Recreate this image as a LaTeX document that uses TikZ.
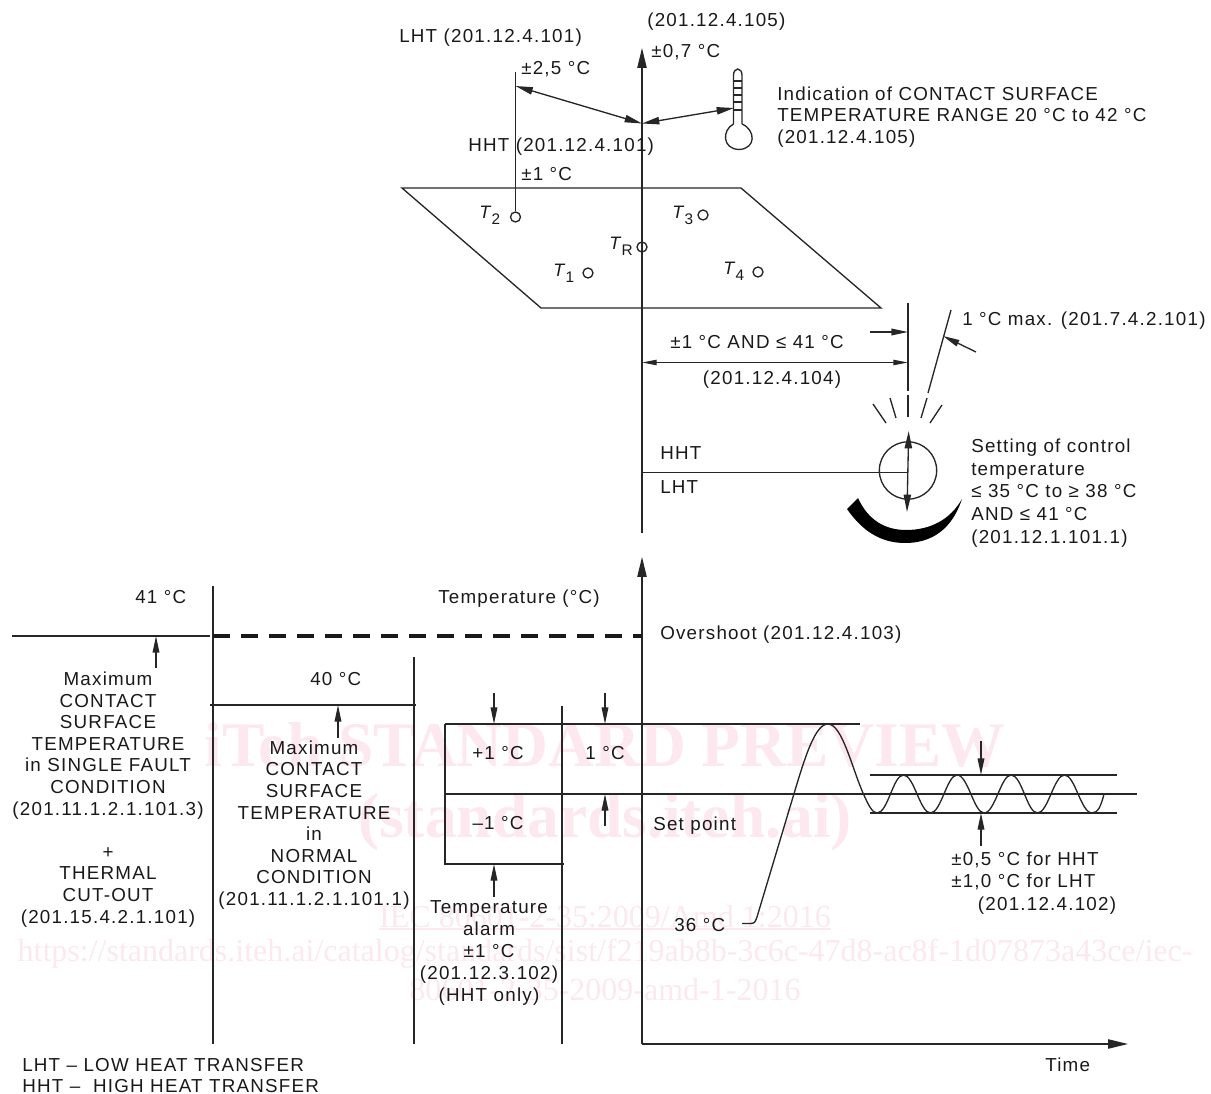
\documentclass[tikz,border=0pt]{standalone}
\usepackage{fontspec}
\setmainfont[LetterSpace=6.5]{Liberation Sans}
\newfontfamily\wmfont{Liberation Serif}
\usetikzlibrary{arrows.meta}
\definecolor{wm}{RGB}{252,232,238}
\newcommand{\Tsub}[1]{{\fontsize{13.5}{14}\selectfont\textit{T}}\kern-0.6pt\raisebox{-4.5pt}{\fontsize{11.5}{12}\selectfont #1}}
\tikzset{
  x=0.75pt,y=-0.75pt,
  lbl/.style={inner sep=0pt,font=\fontsize{14.1}{16.2}\selectfont,text=black!90},
  lc/.style={lbl,align=center,anchor=center},
  ll/.style={lbl,align=left,anchor=west},
  wide/.style={font=\fontsize{14.1}{17}\selectfont},
  mid/.style={font=\fontsize{14.1}{16.6}\selectfont},
  ln/.style={line width=1pt,black!85},
  big/.style={-{Triangle[length=15pt,width=7pt]}},
  sm/.style={-{Triangle[length=12.5pt,width=5pt]}},
  dbl/.style={{Triangle[length=13pt,width=5.5pt]}-{Triangle[length=13pt,width=5.5pt]}},
  dbn/.style={{Triangle[length=11pt,width=4pt]}-{Triangle[length=11pt,width=4pt]}},
  probe/.style={circle,draw,ln,fill=white,inner sep=0pt,minimum size=7.5pt},
  wmb/.style={inner sep=0pt,text=wm,font=\wmfont\bfseries\fontsize{47.6}{47.6}\selectfont,anchor=center},
  wmn/.style={inner sep=0pt,text=wm,font=\wmfont\fontsize{24}{24}\selectfont,anchor=center}
}
\begin{document}
\begin{tikzpicture}
\useasboundingbox (0,0) rectangle (1211,1094);
% watermark
\node[wmb] (w1) at (605,745) {iTeh STANDARD PREVIEW};
\node[wmb] (w2) at (605,822) {(standards.iteh.ai)};
\node[wmn] (w3) at (605,917) {IEC 80601-2-35:2009/Amd 1:2016};
\draw[wm,line width=1.5pt] (w3.south west) -- (w3.south east);
\node[wmn] (w4) at (605,954) {https://standards.iteh.ai/catalog/standards/sist/f219ab8b-3c6c-47d8-ac8f-1d07873a43ce/iec-};
\node[wmn] (w5) at (605,990) {80601-2-35-2009-amd-1-2016};
% top axis
\coordinate (axtop) at (642,48); \coordinate (axbot) at (642,533);
\draw[ln,big] (axbot) -- (axtop);
% plate
\coordinate (p1) at (402,188); \coordinate (p2) at (741,188); \coordinate (p3) at (881,308); \coordinate (p4) at (541,308);
\draw[ln] (p1) -- (p2) -- (p3) -- (p4) -- cycle;
% probes
\node[probe] (t2) at (515.5,217) {};
\node[probe] (t3) at (703,215) {};
\node[probe] (tr) at (642,247) {};
\draw[ln] (642,240) -- (642,254);
\node[probe] (t1) at (588,273) {};
\node[probe] (t4) at (758,272) {};
\coordinate (t2top) at (515.5,72);
\draw[ln] (t2) -- (t2top);
\coordinate (hub) at (642,123.5); \coordinate (lhtp) at (515.5,86); \coordinate (thp) at (734,108);
\draw[ln,dbl] (hub) -- (lhtp);
\draw[ln,dbl] (hub) -- (thp);
% thermometer
\draw[ln] (733.5,124) -- (733.5,75) arc[start angle=180,end angle=360,x radius=4.25,y radius=6] -- (742,124);
\draw[ln] (733.5,124) .. controls (722,130) and (722,149) .. (739,149.5) .. controls (756,149) and (756,130) .. (742,124);
\foreach \yy in {81,88,95,102,110} \draw[ln] (733.5,\yy) -- (742,\yy);
% texts top
\node[ll] (a1) at (399,38) {LHT (201.12.4.101)};
\node[ll] (a2) at (647,22) {(201.12.4.105)};
\node[ll] (a3) at (651,52) {±0,7 °C};
\node[ll] (a4) at (521,69) {±2,5 °C};
\node[ll] (a5) at (468,147) {HHT (201.12.4.101)};
\node[ll] (a6) at (521,174) {±1 °C};
\node[ll] (a7) at (777,117) {Indication of CONTACT SURFACE\\TEMPERATURE RANGE 20 °C to 42 °C\\(201.12.4.105)};
\node[ll] (n2) at (479,215.5) {\Tsub{2}};
\node[ll] (n3) at (672,215) {\Tsub{3}};
\node[ll] (nr) at (609,246) {\Tsub{R}};
\node[ll] (n1) at (553,273) {\Tsub{1}};
\node[ll] (n4) at (723,271) {\Tsub{4}};
% dial
\coordinate (vt) at (908,303); \coordinate (vb) at (908,391);
\draw[ln] (vt) -- (vb);
\draw[ln] (908,395) -- (908,417);
\node[circle,draw,ln,inner sep=0pt,minimum size=43pt] (dial) at (908,470.5) {};
\coordinate (dt) at (908.7,431); \coordinate (db) at (907,512);
\draw[ln,dbl] (db) -- (dt);
\coordinate (hl) at (642,472.7); \coordinate (hr) at (908,472.7);
\draw[ln] (hl) -- (hr);
\node[ll] (b1) at (660,453) {HHT};
\node[ll] (b2) at (660,487) {LHT};
\fill[black] (847,509) .. controls (865,535) and (885,543) .. (905,543)
  .. controls (940,543) and (955,520) .. (962,499)
  .. controls (950,520) and (930,530) .. (906,530)
  .. controls (885,530) and (868,520) .. (858,498) -- cycle;
\draw[ln] (873,404) -- (886,423);
\draw[ln] (890,398) -- (896,418);
\draw[ln] (927,398) -- (921,418);
\draw[ln] (942,405) -- (930,423);
\coordinate (s1) at (951,310); \coordinate (s2) at (928,393);
\draw[ln] (s1) -- (s2);
\coordinate (aa1) at (870,332); \coordinate (aa2) at (908,332);
\draw[ln,sm] (aa1) -- (aa2);
\coordinate (ab1) at (976,352); \coordinate (ab2) at (943,336);
\draw[ln,sm] (ab1) -- (ab2);
\coordinate (d1) at (642,362.5); \coordinate (d2) at (908,362.5);
\draw[ln,dbn] (d1) -- (d2);
\node[lc] (c1) at (757,342) {±1 °C AND ≤ 41 °C};
\node[lc] (c2) at (772,380) {(201.12.4.104)};
\node[ll] (c3) at (962,321) {1 °C max. (201.7.4.2.101)};
\node[ll,wide] (c4) at (971,493) {Setting of control\\temperature\\≤ 35 °C to ≥ 38 °C\\AND ≤ 41 °C\\(201.12.1.101.1)};
% lower axes
\coordinate (o) at (642,1044); \coordinate (oy) at (642,557); \coordinate (ox) at (1128,1044);
\draw[ln,big] (o) -- (oy);
\draw[ln,big] (o) -- (ox);
\node[ll] (e1) at (1045,1065) {Time};
\node[ll] (e2) at (438,599) {Temperature (°C)};
\node[ll] (e3) at (660,635) {Overshoot (201.12.4.103)};
\node[ll] (e4) at (135,597) {41 °C};
\node[ll] (e5) at (310,679) {40 °C};
% columns
\draw[ln] (213,586) -- (213,1044);
\draw[ln] (414,657) -- (414,1044);
\draw[ln] (562,706) -- (562,1044);
\draw[ln] (12,636) -- (210,636);
\draw[line width=2.5pt,black!90,dash pattern=on 12.5pt off 8.5pt] (213,636) -- (642,636);
\draw[ln] (210,705) -- (416,705);
\draw[ln,sm] (156,668) -- (156,636);
\draw[ln,sm] (338,738) -- (338,705);
\draw[ln] (445,724) -- (860,724);
\draw[ln] (445,794) -- (1137,794);
\draw[ln] (445,724) -- (445,864) -- (564,864);
\draw[ln,sm] (494,693) -- (494,724);
\draw[ln,sm] (605,693) -- (605,724);
\draw[ln,sm] (605,826) -- (605,794);
\draw[ln,sm] (494,897) -- (494,864);
\node[lc] (f1) at (108,799.5) {Maximum\\CONTACT\\SURFACE\\TEMPERATURE\\in SINGLE FAULT\\CONDITION\\(201.11.1.2.1.101.3)\\ \\+\\THERMAL\\CUT-OUT\\(201.15.4.2.1.101)};
\node[lc] (f2) at (314,825) {Maximum\\CONTACT\\SURFACE\\TEMPERATURE\\in\\NORMAL\\CONDITION\\(201.11.1.2.1.101.1)};
\node[lc,mid] (f3) at (489,953) {Temperature\\alarm\\±1 °C\\(201.12.3.102)\\(HHT only)};
\node[lc] (g1) at (498,753) {+1 °C};
\node[lc] (g2) at (498,823) {–1 °C};
\node[lc] (g3) at (605,753) {1 °C};
\node[ll] (g4) at (653,826) {Set point};
\node[ll] (g5) at (674,925) {36 °C};
\node[ll,wide] (g6) at (951,883) {±0,5 °C for HHT\\±1,0 °C for LHT\\\hspace*{20pt}(201.12.4.102)};
\node[ll] (h1) at (22,1075.5) {LHT – LOW HEAT TRANSFER\\HHT –\ \ HIGH HEAT TRANSFER};
% curve
\draw[ln] (742,923.5) -- (750,923.5) .. controls (754,923.5) and (755,923) .. (757,917)
 -- (793,797) .. controls (805,757) and (815,724) .. (828,724)
 .. controls (842,724) and (852,768) .. (863,793)
 .. controls (868,804) and (872,813) .. (877,813);
\draw[ln] (870,775) -- (1117,775);
\draw[ln] (870,813) -- (1117,813);
\draw[ln,sm] (981,741) -- (981,775);
\draw[ln,sm] (981,846) -- (981,813);
\draw[ln] (877,813) .. controls (888,813) and (893,775) .. (903.5,775)
 .. controls (914,775) and (920,813) .. (930.5,813)
 .. controls (941,813) and (947,775) .. (957,775)
 .. controls (968,775) and (974,813) .. (984,813)
 .. controls (995,813) and (1001,775) .. (1011,775)
 .. controls (1022,775) and (1027,813) .. (1037.5,813)
 .. controls (1048,813) and (1054,775) .. (1064.5,775)
 .. controls (1075,775) and (1081,813) .. (1092,813)
 .. controls (1098,813) and (1101,806) .. (1104,794);
\end{tikzpicture}
\end{document}
